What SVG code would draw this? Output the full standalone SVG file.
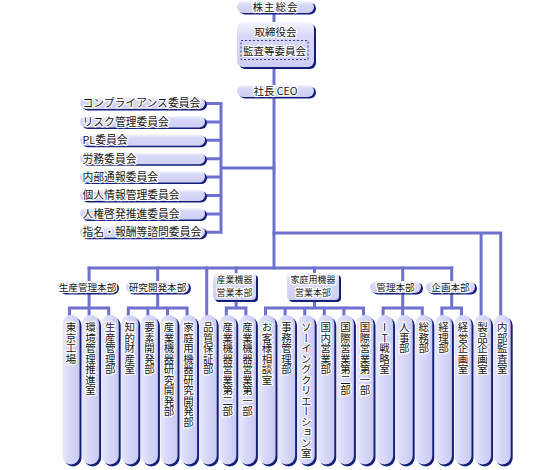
<svg xmlns="http://www.w3.org/2000/svg" width="550" height="470" viewBox="0 0 550 470">
<defs>
<linearGradient id="gv" x1="0" y1="0" x2="0" y2="1">
<stop offset="0" stop-color="#f6f6ff"/>
<stop offset="0.3" stop-color="#d8d8f8"/>
<stop offset="1" stop-color="#cfcff4"/>
</linearGradient>
<linearGradient id="gh" x1="0" y1="0" x2="1" y2="0">
<stop offset="0" stop-color="#e6e6fc"/>
<stop offset="0.5" stop-color="#d6d6f8"/>
<stop offset="1" stop-color="#cbcbf2"/>
</linearGradient>
</defs>
<style>
.ln{stroke:#7070d0;stroke-width:3;fill:none;stroke-linecap:square}
.sh{fill:#141f78}
.fl{fill:url(#gv)}
.fc{fill:url(#gh)}
.dash{fill:none;stroke:#3a3a90;stroke-width:1;stroke-dasharray:2 2}
text{font-family:"Noto Sans CJK JP","Noto Sans",sans-serif;fill:#161616;stroke:#ffffff;stroke-width:2.4;stroke-linejoin:round;paint-order:stroke fill}
.t{font-size:10.5px;text-anchor:middle}
.c{font-size:10.8px}
.h{font-size:9.6px;text-anchor:middle}
.h2{font-size:9px;text-anchor:middle}
.v{font-size:10.5px;writing-mode:vertical-rl;text-orientation:upright}
</style>
<g id="connectors">
<path class="ln" d="M274 13V268"/>
<path class="ln" d="M205 103.5H221M205 121.9H221M205 140.3H221M205 158.7H221M205 177.1H221M205 195.5H221M205 213.9H221M205 232.3H221M221 103.5V232.3M221 168H274"/>
<path class="ln" d="M274 233H500.7V316M481.1 233V316"/>
<path class="ln" d="M89.1 268H451.7"/>
<path class="ln" d="M89.1 268V308M69.5 308H108.7M69.5 308V316M89.1 308V316M108.7 308V316"/>
<path class="ln" d="M157.7 268V308M128.3 308H187.1M128.3 308V316M147.9 308V316M167.5 308V316M187.1 308V316"/>
<path class="ln" d="M206.7 268V316"/>
<path class="ln" d="M236.1 268V308M226.3 308H245.9M226.3 308V316M245.9 308V316"/>
<path class="ln" d="M314.5 268V308M265.5 308H363.5M265.5 308V316M285.1 308V316M304.7 308V316M324.3 308V316M343.9 308V316M363.5 308V316"/>
<path class="ln" d="M402.7 268V308M383.1 308H422.3M383.1 308V316M402.7 308V316M422.3 308V316"/>
<path class="ln" d="M451.7 268V308M441.9 308H461.5M441.9 308V316M461.5 308V316"/>
</g>
<g id="n-kabunushi"><rect class="sh" x="239" y="2.5" width="77" height="12" rx="6"/><rect class="fl" x="237" y="1" width="77" height="12" rx="6"/><text class="t" x="275.5" y="11" letter-spacing="1">株主総会</text></g>
<g id="n-torishimari"><rect class="sh" x="239" y="24" width="77" height="45" rx="6"/><rect class="fl" x="237" y="22" width="77" height="45" rx="6"/><text class="t" x="275.5" y="36">取締役会</text></g>
<g id="n-kansa"><rect class="dash" x="241" y="40.5" width="67" height="19"/><text class="t" x="274.5" y="54.5">監査等委員会</text></g>
<g id="n-ceo"><rect class="sh" x="239" y="86.5" width="77" height="12" rx="6"/><rect class="fl" x="237" y="85" width="77" height="12" rx="6"/><text class="t" x="275.5" y="95">社長 CEO</text></g>
<g id="n-comp"><rect class="sh" x="82" y="99" width="125" height="11.5" rx="5.75"/><rect class="fl" x="80" y="97.5" width="125" height="11.5" rx="5.75"/><text class="c" x="82.5" y="107.3">コンプライアンス委員会</text></g>
<g id="n-risk"><rect class="sh" x="82" y="117.4" width="125" height="11.5" rx="5.75"/><rect class="fl" x="80" y="115.9" width="125" height="11.5" rx="5.75"/><text class="c" x="82.5" y="125.7">リスク管理委員会</text></g>
<g id="n-pl"><rect class="sh" x="82" y="135.8" width="125" height="11.5" rx="5.75"/><rect class="fl" x="80" y="134.3" width="125" height="11.5" rx="5.75"/><text class="c" x="82.5" y="144.1">PL委員会</text></g>
<g id="n-roumu"><rect class="sh" x="82" y="154.2" width="125" height="11.5" rx="5.75"/><rect class="fl" x="80" y="152.7" width="125" height="11.5" rx="5.75"/><text class="c" x="82.5" y="162.5">労務委員会</text></g>
<g id="n-naibu"><rect class="sh" x="82" y="172.6" width="125" height="11.5" rx="5.75"/><rect class="fl" x="80" y="171.1" width="125" height="11.5" rx="5.75"/><text class="c" x="82.5" y="180.9">内部通報委員会</text></g>
<g id="n-kojin"><rect class="sh" x="82" y="191" width="125" height="11.5" rx="5.75"/><rect class="fl" x="80" y="189.5" width="125" height="11.5" rx="5.75"/><text class="c" x="82.5" y="199.3">個人情報管理委員会</text></g>
<g id="n-jinken"><rect class="sh" x="82" y="209.4" width="125" height="11.5" rx="5.75"/><rect class="fl" x="80" y="207.9" width="125" height="11.5" rx="5.75"/><text class="c" x="82.5" y="217.7">人権啓発推進委員会</text></g>
<g id="n-shimei"><rect class="sh" x="82" y="227.8" width="125" height="11.5" rx="5.75"/><rect class="fl" x="80" y="226.3" width="125" height="11.5" rx="5.75"/><text class="c" x="82.5" y="236.1">指名・報酬等諮問委員会</text></g>
<g id="n-seisan-hq"><rect class="sh" x="60" y="282.5" width="59" height="12" rx="6"/><rect class="fl" x="58" y="281" width="59" height="12" rx="6"/><text class="h" x="87.5" y="290.8">生産管理本部</text></g>
<g id="n-kenkyu-hq"><rect class="sh" x="128" y="282.5" width="63" height="12" rx="6"/><rect class="fl" x="126" y="281" width="63" height="12" rx="6"/><text class="h" x="157.5" y="290.8">研究開発本部</text></g>
<g id="n-sangyo-hq"><rect class="sh" x="215" y="275" width="43" height="27" rx="4"/><rect class="fl" x="213" y="273" width="43" height="27" rx="4"/><text class="h2" x="234.5" y="283.3">産業機器</text><text class="h2" x="234.5" y="296.3">営業本部</text></g>
<g id="n-katei-hq"><rect class="sh" x="289" y="275" width="52" height="27" rx="4"/><rect class="fl" x="287" y="273" width="52" height="27" rx="4"/><text class="h2" x="313" y="283.3">家庭用機器</text><text class="h2" x="313" y="296.3">営業本部</text></g>
<g id="n-kanri-hq"><rect class="sh" x="372" y="282.5" width="51" height="12" rx="6"/><rect class="fl" x="370" y="281" width="51" height="12" rx="6"/><text class="h" x="395.5" y="290.8">管理本部</text></g>
<g id="n-kikaku-hq"><rect class="sh" x="428" y="282.5" width="49" height="12" rx="6"/><rect class="fl" x="426" y="281" width="49" height="12" rx="6"/><text class="h" x="450.5" y="290.8">企画本部</text></g>
<g id="c0"><rect class="sh" x="64.5" y="317" width="17" height="149.5" rx="8.5"/><rect class="fc" x="62.5" y="315" width="17" height="149.5" rx="8.5"/><text class="v" x="71" y="322">東京工場</text></g>
<g id="c1"><rect class="sh" x="84.1" y="317" width="17" height="149.5" rx="8.5"/><rect class="fc" x="82.1" y="315" width="17" height="149.5" rx="8.5"/><text class="v" x="90.6" y="322">環境管理推進室</text></g>
<g id="c2"><rect class="sh" x="103.7" y="317" width="17" height="149.5" rx="8.5"/><rect class="fc" x="101.7" y="315" width="17" height="149.5" rx="8.5"/><text class="v" x="110.2" y="322">生産管理部</text></g>
<g id="c3"><rect class="sh" x="123.3" y="317" width="17" height="149.5" rx="8.5"/><rect class="fc" x="121.3" y="315" width="17" height="149.5" rx="8.5"/><text class="v" x="129.8" y="322">知的財産室</text></g>
<g id="c4"><rect class="sh" x="142.9" y="317" width="17" height="149.5" rx="8.5"/><rect class="fc" x="140.9" y="315" width="17" height="149.5" rx="8.5"/><text class="v" x="149.4" y="322">要素開発部</text></g>
<g id="c5"><rect class="sh" x="162.5" y="317" width="17" height="149.5" rx="8.5"/><rect class="fc" x="160.5" y="315" width="17" height="149.5" rx="8.5"/><text class="v" x="169" y="322">産業機器研究開発部</text></g>
<g id="c6"><rect class="sh" x="182.1" y="317" width="17" height="149.5" rx="8.5"/><rect class="fc" x="180.1" y="315" width="17" height="149.5" rx="8.5"/><text class="v" x="188.6" y="322">家庭用機器研究開発部</text></g>
<g id="c7"><rect class="sh" x="201.7" y="317" width="17" height="149.5" rx="8.5"/><rect class="fc" x="199.7" y="315" width="17" height="149.5" rx="8.5"/><text class="v" x="208.2" y="322">品質保証部</text></g>
<g id="c8"><rect class="sh" x="221.3" y="317" width="17" height="149.5" rx="8.5"/><rect class="fc" x="219.3" y="315" width="17" height="149.5" rx="8.5"/><text class="v" x="227.8" y="322">産業機器営業第二部</text></g>
<g id="c9"><rect class="sh" x="240.9" y="317" width="17" height="149.5" rx="8.5"/><rect class="fc" x="238.9" y="315" width="17" height="149.5" rx="8.5"/><text class="v" x="247.4" y="322">産業機器営業第一部</text></g>
<g id="c10"><rect class="sh" x="260.5" y="317" width="17" height="149.5" rx="8.5"/><rect class="fc" x="258.5" y="315" width="17" height="149.5" rx="8.5"/><text class="v" x="267" y="322">お客様相談室</text></g>
<g id="c11"><rect class="sh" x="280.1" y="317" width="17" height="149.5" rx="8.5"/><rect class="fc" x="278.1" y="315" width="17" height="149.5" rx="8.5"/><text class="v" x="286.6" y="322">事務管理部</text></g>
<g id="c12"><rect class="sh" x="299.7" y="317" width="17" height="149.5" rx="8.5"/><rect class="fc" x="297.7" y="315" width="17" height="149.5" rx="8.5"/><text class="v" x="306.2" y="322">ソーイングクリエーション室</text></g>
<g id="c13"><rect class="sh" x="319.3" y="317" width="17" height="149.5" rx="8.5"/><rect class="fc" x="317.3" y="315" width="17" height="149.5" rx="8.5"/><text class="v" x="325.8" y="322">国内営業部</text></g>
<g id="c14"><rect class="sh" x="338.9" y="317" width="17" height="149.5" rx="8.5"/><rect class="fc" x="336.9" y="315" width="17" height="149.5" rx="8.5"/><text class="v" x="345.4" y="322">国際営業第二部</text></g>
<g id="c15"><rect class="sh" x="358.5" y="317" width="17" height="149.5" rx="8.5"/><rect class="fc" x="356.5" y="315" width="17" height="149.5" rx="8.5"/><text class="v" x="365" y="322">国際営業第一部</text></g>
<g id="c16"><rect class="sh" x="378.1" y="317" width="17" height="149.5" rx="8.5"/><rect class="fc" x="376.1" y="315" width="17" height="149.5" rx="8.5"/><text class="v" x="384.6" y="322">IT戦略室</text></g>
<g id="c17"><rect class="sh" x="397.7" y="317" width="17" height="149.5" rx="8.5"/><rect class="fc" x="395.7" y="315" width="17" height="149.5" rx="8.5"/><text class="v" x="404.2" y="322">人事部</text></g>
<g id="c18"><rect class="sh" x="417.3" y="317" width="17" height="149.5" rx="8.5"/><rect class="fc" x="415.3" y="315" width="17" height="149.5" rx="8.5"/><text class="v" x="423.8" y="322">総務部</text></g>
<g id="c19"><rect class="sh" x="436.9" y="317" width="17" height="149.5" rx="8.5"/><rect class="fc" x="434.9" y="315" width="17" height="149.5" rx="8.5"/><text class="v" x="443.4" y="322">経理部</text></g>
<g id="c20"><rect class="sh" x="456.5" y="317" width="17" height="149.5" rx="8.5"/><rect class="fc" x="454.5" y="315" width="17" height="149.5" rx="8.5"/><text class="v" x="463" y="322">経営企画室</text></g>
<g id="c21"><rect class="sh" x="476.1" y="317" width="17" height="149.5" rx="8.5"/><rect class="fc" x="474.1" y="315" width="17" height="149.5" rx="8.5"/><text class="v" x="482.6" y="322">製品企画室</text></g>
<g id="c22"><rect class="sh" x="495.7" y="317" width="17" height="149.5" rx="8.5"/><rect class="fc" x="493.7" y="315" width="17" height="149.5" rx="8.5"/><text class="v" x="502.2" y="322">内部監査室</text></g>
</svg>
